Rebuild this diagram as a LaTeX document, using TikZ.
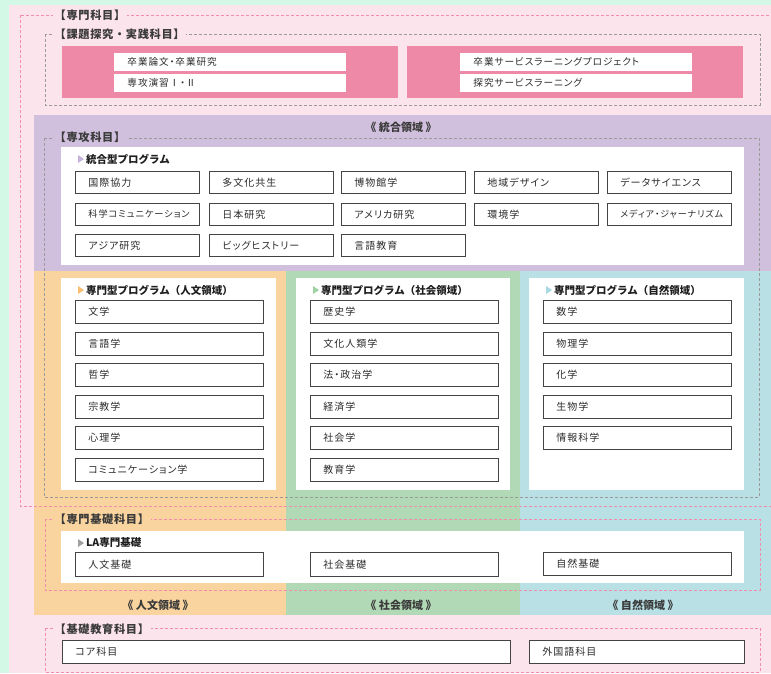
\documentclass[tikz,border=0pt]{standalone}
\usepackage{fontspec}
\setmainfont{Noto Sans CJK JP}
\newfontfamily\boxfont{Noto Sans CJK JP}[RawFeature=+palt,LetterSpace=10]
\newfontfamily\sectfont{Noto Sans CJK JP}[LetterSpace=6]
\usetikzlibrary{calc}

\definecolor{mint}{HTML}{D3F8E6}
\definecolor{pinkbg}{HTML}{FCE4EC}
\definecolor{pinkpanel}{HTML}{EE89A7}
\definecolor{pinkline}{HTML}{F28DAE}
\definecolor{grayline}{HTML}{9A9A9A}
\definecolor{purplebg}{HTML}{D0C0DD}
\definecolor{orangebg}{HTML}{FAD49E}
\definecolor{greenbg}{HTML}{B2D9B5}
\definecolor{bluebg}{HTML}{B8E0E5}
\definecolor{boxline}{HTML}{444444}
\definecolor{boxtxt}{HTML}{2C2C2C}
\definecolor{sectxt}{HTML}{3A3A3A}
\definecolor{ttltxt}{HTML}{1E1E1E}
\definecolor{triInt}{HTML}{C6B2DB}
\definecolor{triHum}{HTML}{F8BF72}
\definecolor{triSoc}{HTML}{9ED2A4}
\definecolor{triNat}{HTML}{A6D9E2}
\definecolor{triLA}{HTML}{A0A0A0}

\begin{document}
\begin{tikzpicture}[x=1pt, y=-1pt,
    subj/.style={draw=boxline, fill=white, line width=0.9pt, anchor=north west, inner xsep=13pt, inner ysep=0pt, align=left, text=boxtxt, font=\boxfont\fontsize{10}{12}\selectfont},
    pinksubj/.style={subj, draw=white, text width=205pt, minimum height=17pt, font=\boxfont\fontsize{9.6}{11}\selectfont},
    gridsubj/.style={subj, text width=98pt, minimum height=22pt},
    listsubj/.style={subj, text width=162pt, minimum height=23pt},
    sect/.style={anchor=west, inner xsep=1.5pt, inner ysep=1pt, text=sectxt, font=\sectfont\bfseries\fontsize{11.2}{13}\selectfont},
    ttl/.style={anchor=west, inner sep=0pt, text=ttltxt, font=\bfseries\fontsize{10.5}{12}\selectfont},
    dom/.style={text=sectxt, font=\bfseries\fontsize{11}{13}\selectfont},
    pinkdash/.style={draw=pinkline, line width=0.8pt, dash pattern=on 3pt off 2pt},
    graydash/.style={draw=grayline, line width=0.8pt, dash pattern=on 3pt off 2pt}]
        \useasboundingbox (0,0) rectangle (771,673);

        % backgrounds
        \fill[mint] (0,0) rectangle (771,673);
        \fill[pinkbg] (9,5) rectangle (771,673);
        \fill[pinkpanel] (62,46) rectangle (398,98);
        \fill[pinkpanel] (407,46) rectangle (743,98);
        \fill[purplebg] (34,115) rectangle (771,271);
        \fill[orangebg] (34,271) rectangle (286,615);
        \fill[greenbg] (286,271) rectangle (520,615);
        \fill[bluebg] (520,271) rectangle (771,615);

        % white panels
        \fill[white] (61,147) rectangle (744,265);
        \fill[white] (61,278) rectangle (276,490);
        \fill[white] (296,278) rectangle (510,490);
        \fill[white] (529,278) rectangle (744,490);
        \fill[white] (61,531) rectangle (744,583);

        % frames
        \draw[pinkdash] (20,15) rectangle (776,506);
        \draw[graydash] (45,34) rectangle (760,105);
        \draw[graydash] (44,138) rectangle (759,497);
        \draw[pinkdash] (45,519) rectangle (760,590);
        \draw[pinkdash] (45,628) rectangle (760,672);

        % frame labels
        \node (senmon) at (53,15) [sect, fill=pinkbg] {【専門科目】};
        \node (kadai) at (53,34) [sect, fill=pinkbg] {【課題探究・実践科目】};
        \node (senkou) at (53,137) [sect, fill=purplebg] {【専攻科目】};
        \node (kiso) at (53,519) [sect, fill=orangebg] {【専門基礎科目】};
        \node (kyouiku) at (53,629) [sect, fill=pinkbg] {【基礎教育科目】};

        % domains
        \node (domInt) at (401,127) [dom] {《 統合領域 》};
        \node (domHum) at (158,605) [dom] {《 人文領域 》};
        \node (domSoc) at (401,605) [dom] {《 社会領域 》};
        \node (domNat) at (643,605) [dom] {《 自然領域 》};

        % practice subjects
        \node (sotsuron) at (114,53) [pinksubj] {卒業論文・卒業研究};
        \node (enshu) at (114,74) [pinksubj] {専攻演習Ⅰ・Ⅱ};
        \node (slproj) at (460,53) [pinksubj] {卒業サービスラーニングプロジェクト};
        \node (sl) at (460,74) [pinksubj] {探究サービスラーニング};

        % integrated programme
        \node (tInt) at (86,159) [ttl] {統合型プログラム};
        \fill[triInt] ([shift={(-8,-4)}]tInt.west) -- ++(0,8) -- ++(6,-4) -- cycle;
        \node (i11) at (75,171) [gridsubj] {国際協力};
        \node (i12) at (209,171) [gridsubj] {多文化共生};
        \node (i13) at (341,171) [gridsubj] {博物館学};
        \node (i14) at (474,171) [gridsubj] {地域デザイン};
        \node (i15) at (607,171) [gridsubj] {データサイエンス};
        \node (i21) at (75,203) [gridsubj, font=\boxfont\fontsize{9.2}{10}\selectfont] {科学コミュニケーション};
        \node (i22) at (209,203) [gridsubj] {日本研究};
        \node (i23) at (341,203) [gridsubj] {アメリカ研究};
        \node (i24) at (474,203) [gridsubj] {環境学};
        \node (i25) at (607,203) [gridsubj, font=\boxfont\fontsize{9}{10}\selectfont] {メディア・ジャーナリズム};
        \node (i31) at (75,234) [gridsubj] {アジア研究};
        \node (i32) at (209,234) [gridsubj] {ビッグヒストリー};
        \node (i33) at (341,234) [gridsubj] {言語教育};

        % humanities
        \node (tHum) at (86,290) [ttl] {専門型プログラム（人文領域）};
        \fill[triHum] ([shift={(-8,-4)}]tHum.west) -- ++(0,8) -- ++(6,-4) -- cycle;
        \node (h1) at (75,300) [listsubj] {文学};
        \node (h2) at (75,332) [listsubj] {言語学};
        \node (h3) at (75,363) [listsubj] {哲学};
        \node (h4) at (75,395) [listsubj] {宗教学};
        \node (h5) at (75,426) [listsubj] {心理学};
        \node (h6) at (75,458) [listsubj] {コミュニケーション学};

        % social sciences
        \node (tSoc) at (321,290) [ttl] {専門型プログラム（社会領域）};
        \fill[triSoc] ([shift={(-8,-4)}]tSoc.west) -- ++(0,8) -- ++(6,-4) -- cycle;
        \node (s1) at (310,300) [listsubj] {歴史学};
        \node (s2) at (310,332) [listsubj] {文化人類学};
        \node (s3) at (310,363) [listsubj] {法・政治学};
        \node (s4) at (310,395) [listsubj] {経済学};
        \node (s5) at (310,426) [listsubj] {社会学};
        \node (s6) at (310,458) [listsubj] {教育学};

        % natural sciences
        \node (tNat) at (554,290) [ttl] {専門型プログラム（自然領域）};
        \fill[triNat] ([shift={(-8,-4)}]tNat.west) -- ++(0,8) -- ++(6,-4) -- cycle;
        \node (n1) at (543,300) [listsubj] {数学};
        \node (n2) at (543,332) [listsubj] {物理学};
        \node (n3) at (543,363) [listsubj] {化学};
        \node (n4) at (543,395) [listsubj] {生物学};
        \node (n5) at (543,426) [listsubj] {情報科学};

        % LA foundations
        \node (tLA) at (86,543) [ttl] {LA専門基礎};
        \fill[triLA] ([shift={(-8,-4)}]tLA.west) -- ++(0,8) -- ++(6,-4) -- cycle;
        \node (bHum) at (75,552) [listsubj, minimum height=24pt] {人文基礎};
        \node (bSoc) at (310,552) [listsubj, minimum height=24pt] {社会基礎};
        \node (bNat) at (543,552) [listsubj, minimum height=23pt] {自然基礎};

        % basic education
        \node (core) at (62,640) [subj, text width=422pt, minimum height=23pt] {コア科目};
        \node (lang) at (529,640) [subj, text width=189pt, minimum height=23pt] {外国語科目};
    \end{tikzpicture}
\end{document}
